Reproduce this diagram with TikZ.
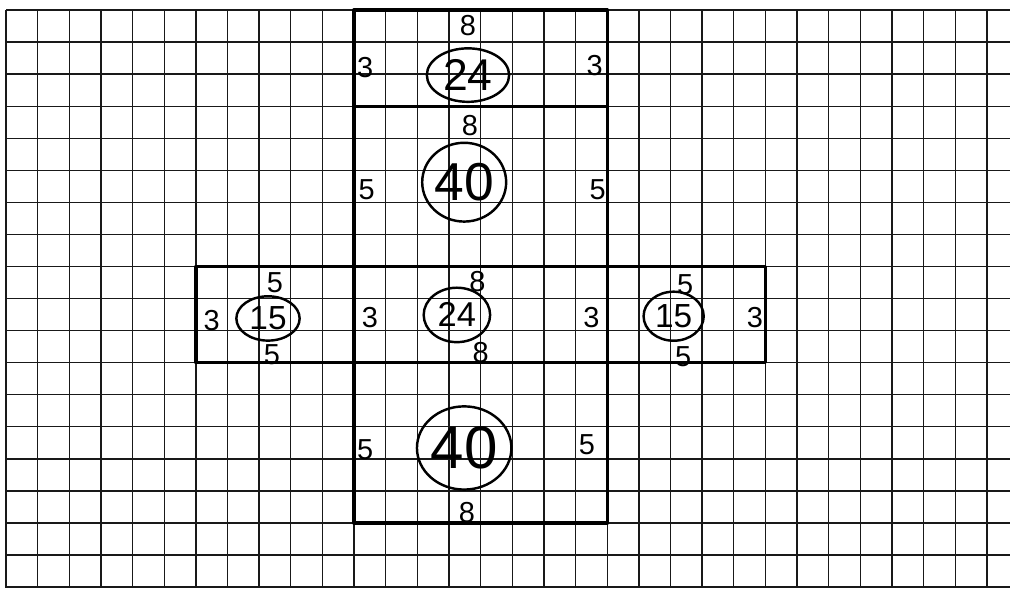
\documentclass[tikz,border=0pt]{standalone}
\usepackage{fontspec}
\setmainfont{Liberation Sans}
\usetikzlibrary{shapes.geometric}
\usetikzlibrary{positioning}

\begin{document}
\begin{tikzpicture}[x=1cm,y=-1.0133cm,
	grid line/.style={line width=1.2pt,black!90},
	face/.style={line width=3pt,line join=round,line cap=round},
	len node/.style={font=\fontsize{26}{26}\selectfont,inner sep=0pt},
	area node/.style={ellipse,draw,line width=2.2pt,inner sep=0pt}]
	
	\useasboundingbox (-0.19,-0.312) rectangle (31.73,18.03);
	
	% graph paper
	\foreach \r in {0,...,18}
	\draw[grid line] (0,\r) -- (31.73,\r);
	\foreach \c in {0,...,31}
	\draw[grid line] (\c,0) -- (\c,18.03);
	
	% the net
	\draw[face] (11,0) rectangle (19,3);
	\draw[face] (11,3) rectangle (19,8);
	\draw[face] (6,8) rectangle (11,11);
	\draw[face] (11,8) rectangle (19,11);
	\draw[face] (19,8) rectangle (24,11);
	\draw[face] (11,11) rectangle (19,16);
	
	% top face
	\node[len node] (t8) at (14.6,0.47) {8};
	\node[len node] (t3l) at (11.35,1.78) {3};
	\node[len node] (t3r) at (18.6,1.72) {3};
	\node[area node,minimum width=2.6cm,minimum height=1.69cm,
	font=\fontsize{40}{40}\selectfont] (t24) at (14.6,2.03) {24};
	
	% upper front face
	\node[len node] (u8) at (14.66,3.59) {8};
	\node[len node] (u5l) at (11.4,5.6) {5};
	\node[len node] (u5r) at (18.7,5.6) {5};
	\node[area node,minimum width=2.27cm,minimum height=2.49cm,
	font=\fontsize{48}{48}\selectfont] (u40) at (14.48,5.37) {40};
	
	% middle row
	\node[len node] (m8t) at (14.9,8.48) {8};
	\node[len node] (m3l) at (11.5,9.6) {3};
	\node[len node] (m3r) at (18.5,9.6) {3};
	\node[len node] (m8b) at (15.0,10.67) {8};
	\node[area node,minimum width=2.1cm,minimum height=1.72cm,
	font=\fontsize{31}{31}\selectfont] (m24) at (14.25,9.51) {24};
	
	\node[len node] (l5t) at (8.5,8.52) {5};
	\node[len node] (l3) at (6.5,9.7) {3};
	\node[len node] (l5b) at (8.4,10.74) {5};
	\node[area node,minimum width=2.0cm,minimum height=1.4cm,
	font=\fontsize{30}{30}\selectfont] (l15) at (8.28,9.62) {15};
	
	\node[len node] (r5t) at (21.46,8.58) {5};
	\node[len node] (r3) at (23.67,9.6) {3};
	\node[len node] (r5b) at (21.4,10.8) {5};
	\node[area node,minimum width=1.9cm,minimum height=1.55cm,
	font=\fontsize{30}{30}\selectfont] (r15) at (21.1,9.55) {15};
	
	% lower face
	\node[len node] (b5l) at (11.35,13.72) {5};
	\node[len node] (b5r) at (18.36,13.57) {5};
	\node[len node] (b8) at (14.57,15.66) {8};
	\node[area node,minimum width=2.8cm,minimum height=2.63cm,
	font=\fontsize{54}{54}\selectfont] (b40) at (14.48,13.66) {40};
\end{tikzpicture}
\end{document}
